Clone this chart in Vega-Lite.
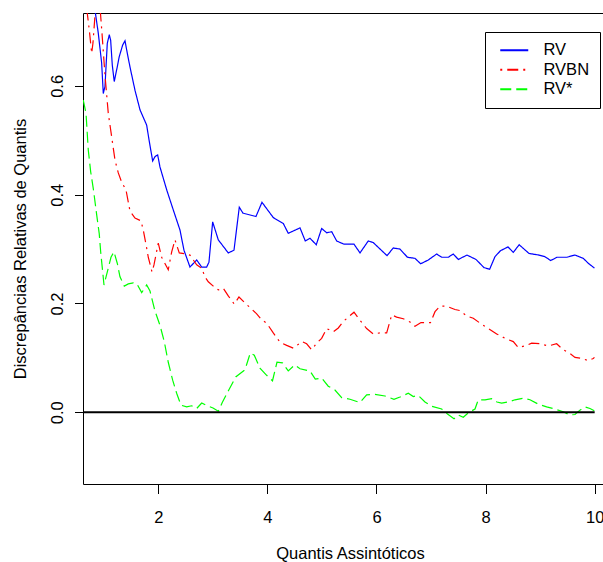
{
  "$schema": "https://vega.github.io/schema/vega-lite/v6.json",
  "width": 521,
  "height": 471,
  "autosize": {"type": "none"},
  "padding": {"left": 83, "top": 13, "right": -1, "bottom": 78},
  "background": "white",
  "config": {
    "font": "Liberation Sans",
    "view": {"stroke": "black", "strokeWidth": 1},
    "axis": {"grid": false, "domain": false, "tickColor": "black", "labelColor": "black", "titleColor": "black", "labelFontSize": 16.5, "titleFontSize": 16.5, "titleFontWeight": "normal", "labelFlush": false, "labelOverlap": false}
  },
  "encoding": {
    "x": {"field": "x", "type": "quantitative", "scale": {"domain": [0.62, 10.171], "nice": false, "zero": false},
      "axis": {"values": [2, 4, 6, 8, 10], "format": "d", "tickSize": 9.5, "labelPadding": 29, "labelBaseline": "alphabetic", "title": "Quantis Assintóticos", "titleX": 267, "titleY": 74, "titleBaseline": "alphabetic", "titleAlign": "center"}},
    "y": {"field": "y", "type": "quantitative", "scale": {"domain": [-0.1318, 0.734], "nice": false, "zero": false},
      "axis": {"values": [0, 0.2, 0.4, 0.6], "format": ".1f", "tickSize": 8.5, "labelAngle": -90, "labelAlign": "center", "labelBaseline": "alphabetic", "labelPadding": 12, "title": "Discrepâncias Relativas de Quantis", "titleX": -58, "titleY": 235.5, "titleBaseline": "alphabetic", "titleAlign": "center", "titleAngle": -90}}
  },
  "layer": [
    {
      "data": {"values": [
        {"s":"RV","x":0.803,"y":0.780},{"s":"RV","x":0.840,"y":0.739},{"s":"RV","x":0.900,"y":0.697},{"s":"RV","x":0.962,"y":0.642},{"s":"RV","x":0.992,"y":0.586},{"s":"RV","x":1.023,"y":0.599},{"s":"RV","x":1.065,"y":0.678},{"s":"RV","x":1.102,"y":0.694},{"s":"RV","x":1.127,"y":0.684},{"s":"RV","x":1.157,"y":0.638},{"s":"RV","x":1.193,"y":0.608},{"s":"RV","x":1.248,"y":0.635},{"s":"RV","x":1.285,"y":0.654},{"s":"RV","x":1.347,"y":0.675},{"s":"RV","x":1.390,"y":0.683},{"s":"RV","x":1.432,"y":0.660},{"s":"RV","x":1.481,"y":0.635},{"s":"RV","x":1.573,"y":0.592},{"s":"RV","x":1.665,"y":0.556},{"s":"RV","x":1.787,"y":0.528},{"s":"RV","x":1.830,"y":0.501},{"s":"RV","x":1.897,"y":0.462},{"s":"RV","x":1.940,"y":0.470},{"s":"RV","x":1.989,"y":0.473},{"s":"RV","x":2.031,"y":0.451},{"s":"RV","x":2.154,"y":0.409},{"s":"RV","x":2.275,"y":0.372},{"s":"RV","x":2.398,"y":0.335},{"s":"RV","x":2.471,"y":0.298},{"s":"RV","x":2.581,"y":0.267},{"s":"RV","x":2.704,"y":0.280},{"s":"RV","x":2.796,"y":0.267},{"s":"RV","x":2.887,"y":0.267},{"s":"RV","x":2.929,"y":0.276},{"s":"RV","x":2.997,"y":0.350},{"s":"RV","x":3.100,"y":0.317},{"s":"RV","x":3.283,"y":0.293},{"s":"RV","x":3.388,"y":0.298},{"s":"RV","x":3.485,"y":0.377},{"s":"RV","x":3.553,"y":0.366},{"s":"RV","x":3.791,"y":0.360},{"s":"RV","x":3.901,"y":0.386},{"s":"RV","x":4.108,"y":0.358},{"s":"RV","x":4.292,"y":0.347},{"s":"RV","x":4.383,"y":0.329},{"s":"RV","x":4.598,"y":0.339},{"s":"RV","x":4.695,"y":0.315},{"s":"RV","x":4.781,"y":0.320},{"s":"RV","x":4.896,"y":0.308},{"s":"RV","x":4.995,"y":0.338},{"s":"RV","x":5.087,"y":0.330},{"s":"RV","x":5.179,"y":0.332},{"s":"RV","x":5.270,"y":0.315},{"s":"RV","x":5.404,"y":0.309},{"s":"RV","x":5.588,"y":0.309},{"s":"RV","x":5.698,"y":0.293},{"s":"RV","x":5.850,"y":0.315},{"s":"RV","x":5.941,"y":0.312},{"s":"RV","x":6.193,"y":0.288},{"s":"RV","x":6.308,"y":0.302},{"s":"RV","x":6.431,"y":0.300},{"s":"RV","x":6.568,"y":0.285},{"s":"RV","x":6.706,"y":0.283},{"s":"RV","x":6.810,"y":0.273},{"s":"RV","x":6.950,"y":0.280},{"s":"RV","x":7.104,"y":0.291},{"s":"RV","x":7.195,"y":0.285},{"s":"RV","x":7.316,"y":0.285},{"s":"RV","x":7.408,"y":0.291},{"s":"RV","x":7.500,"y":0.281},{"s":"RV","x":7.659,"y":0.289},{"s":"RV","x":7.824,"y":0.281},{"s":"RV","x":7.971,"y":0.266},{"s":"RV","x":8.075,"y":0.263},{"s":"RV","x":8.172,"y":0.286},{"s":"RV","x":8.273,"y":0.297},{"s":"RV","x":8.411,"y":0.304},{"s":"RV","x":8.508,"y":0.294},{"s":"RV","x":8.616,"y":0.308},{"s":"RV","x":8.796,"y":0.292},{"s":"RV","x":8.979,"y":0.289},{"s":"RV","x":9.089,"y":0.286},{"s":"RV","x":9.194,"y":0.279},{"s":"RV","x":9.309,"y":0.285},{"s":"RV","x":9.487,"y":0.285},{"s":"RV","x":9.639,"y":0.289},{"s":"RV","x":9.791,"y":0.283},{"s":"RV","x":9.883,"y":0.274},{"s":"RV","x":9.996,"y":0.265},
        {"s":"RVBN","x":0.620,"y":0.795},{"s":"RVBN","x":0.687,"y":0.743},{"s":"RVBN","x":0.735,"y":0.703},{"s":"RVBN","x":0.779,"y":0.660},{"s":"RVBN","x":0.803,"y":0.679},{"s":"RVBN","x":0.840,"y":0.730},{"s":"RVBN","x":0.876,"y":0.785},{"s":"RVBN","x":0.922,"y":0.776},{"s":"RVBN","x":0.940,"y":0.734},{"s":"RVBN","x":0.968,"y":0.697},{"s":"RVBN","x":1.023,"y":0.620},{"s":"RVBN","x":1.083,"y":0.550},{"s":"RVBN","x":1.146,"y":0.506},{"s":"RVBN","x":1.206,"y":0.464},{"s":"RVBN","x":1.267,"y":0.440},{"s":"RVBN","x":1.329,"y":0.423},{"s":"RVBN","x":1.408,"y":0.409},{"s":"RVBN","x":1.481,"y":0.370},{"s":"RVBN","x":1.573,"y":0.357},{"s":"RVBN","x":1.683,"y":0.352},{"s":"RVBN","x":1.725,"y":0.335},{"s":"RVBN","x":1.787,"y":0.302},{"s":"RVBN","x":1.817,"y":0.285},{"s":"RVBN","x":1.885,"y":0.258},{"s":"RVBN","x":1.921,"y":0.271},{"s":"RVBN","x":2.000,"y":0.311},{"s":"RVBN","x":2.062,"y":0.285},{"s":"RVBN","x":2.183,"y":0.262},{"s":"RVBN","x":2.246,"y":0.295},{"s":"RVBN","x":2.306,"y":0.317},{"s":"RVBN","x":2.385,"y":0.293},{"s":"RVBN","x":2.508,"y":0.291},{"s":"RVBN","x":2.581,"y":0.289},{"s":"RVBN","x":2.704,"y":0.271},{"s":"RVBN","x":2.796,"y":0.265},{"s":"RVBN","x":2.856,"y":0.249},{"s":"RVBN","x":2.917,"y":0.240},{"s":"RVBN","x":3.008,"y":0.232},{"s":"RVBN","x":3.100,"y":0.225},{"s":"RVBN","x":3.192,"y":0.228},{"s":"RVBN","x":3.283,"y":0.214},{"s":"RVBN","x":3.393,"y":0.199},{"s":"RVBN","x":3.479,"y":0.212},{"s":"RVBN","x":3.589,"y":0.201},{"s":"RVBN","x":3.699,"y":0.191},{"s":"RVBN","x":3.804,"y":0.181},{"s":"RVBN","x":3.896,"y":0.170},{"s":"RVBN","x":3.987,"y":0.164},{"s":"RVBN","x":4.108,"y":0.146},{"s":"RVBN","x":4.231,"y":0.129},{"s":"RVBN","x":4.354,"y":0.123},{"s":"RVBN","x":4.475,"y":0.118},{"s":"RVBN","x":4.634,"y":0.130},{"s":"RVBN","x":4.720,"y":0.126},{"s":"RVBN","x":4.812,"y":0.115},{"s":"RVBN","x":4.904,"y":0.127},{"s":"RVBN","x":4.995,"y":0.136},{"s":"RVBN","x":5.087,"y":0.154},{"s":"RVBN","x":5.208,"y":0.148},{"s":"RVBN","x":5.300,"y":0.155},{"s":"RVBN","x":5.391,"y":0.167},{"s":"RVBN","x":5.496,"y":0.176},{"s":"RVBN","x":5.588,"y":0.184},{"s":"RVBN","x":5.698,"y":0.169},{"s":"RVBN","x":5.820,"y":0.154},{"s":"RVBN","x":5.941,"y":0.144},{"s":"RVBN","x":6.064,"y":0.146},{"s":"RVBN","x":6.187,"y":0.146},{"s":"RVBN","x":6.279,"y":0.179},{"s":"RVBN","x":6.370,"y":0.175},{"s":"RVBN","x":6.491,"y":0.172},{"s":"RVBN","x":6.614,"y":0.166},{"s":"RVBN","x":6.706,"y":0.158},{"s":"RVBN","x":6.816,"y":0.165},{"s":"RVBN","x":6.990,"y":0.165},{"s":"RVBN","x":7.073,"y":0.185},{"s":"RVBN","x":7.164,"y":0.195},{"s":"RVBN","x":7.287,"y":0.195},{"s":"RVBN","x":7.439,"y":0.189},{"s":"RVBN","x":7.531,"y":0.187},{"s":"RVBN","x":7.654,"y":0.177},{"s":"RVBN","x":7.775,"y":0.173},{"s":"RVBN","x":7.897,"y":0.164},{"s":"RVBN","x":8.050,"y":0.154},{"s":"RVBN","x":8.204,"y":0.144},{"s":"RVBN","x":8.356,"y":0.136},{"s":"RVBN","x":8.508,"y":0.130},{"s":"RVBN","x":8.600,"y":0.119},{"s":"RVBN","x":8.722,"y":0.122},{"s":"RVBN","x":8.845,"y":0.127},{"s":"RVBN","x":8.997,"y":0.126},{"s":"RVBN","x":9.149,"y":0.122},{"s":"RVBN","x":9.303,"y":0.126},{"s":"RVBN","x":9.424,"y":0.115},{"s":"RVBN","x":9.547,"y":0.108},{"s":"RVBN","x":9.639,"y":0.101},{"s":"RVBN","x":9.762,"y":0.099},{"s":"RVBN","x":9.883,"y":0.095},{"s":"RVBN","x":9.974,"y":0.099},{"s":"RVBN","x":9.996,"y":0.101},
        {"s":"RV*","x":0.625,"y":0.574},{"s":"RV*","x":0.675,"y":0.550},{"s":"RV*","x":0.717,"y":0.482},{"s":"RV*","x":0.761,"y":0.442},{"s":"RV*","x":0.812,"y":0.409},{"s":"RV*","x":0.871,"y":0.363},{"s":"RV*","x":0.918,"y":0.328},{"s":"RV*","x":0.944,"y":0.295},{"s":"RV*","x":0.977,"y":0.262},{"s":"RV*","x":1.005,"y":0.234},{"s":"RV*","x":1.083,"y":0.265},{"s":"RV*","x":1.133,"y":0.285},{"s":"RV*","x":1.188,"y":0.295},{"s":"RV*","x":1.248,"y":0.274},{"s":"RV*","x":1.298,"y":0.249},{"s":"RV*","x":1.377,"y":0.232},{"s":"RV*","x":1.450,"y":0.236},{"s":"RV*","x":1.542,"y":0.238},{"s":"RV*","x":1.610,"y":0.236},{"s":"RV*","x":1.696,"y":0.220},{"s":"RV*","x":1.787,"y":0.234},{"s":"RV*","x":1.848,"y":0.223},{"s":"RV*","x":1.940,"y":0.186},{"s":"RV*","x":2.031,"y":0.160},{"s":"RV*","x":2.110,"y":0.130},{"s":"RV*","x":2.183,"y":0.092},{"s":"RV*","x":2.264,"y":0.059},{"s":"RV*","x":2.337,"y":0.035},{"s":"RV*","x":2.416,"y":0.013},{"s":"RV*","x":2.521,"y":0.010},{"s":"RV*","x":2.612,"y":0.012},{"s":"RV*","x":2.704,"y":0.007},{"s":"RV*","x":2.796,"y":0.017},{"s":"RV*","x":2.902,"y":0.012},{"s":"RV*","x":3.003,"y":0.008},{"s":"RV*","x":3.100,"y":0.002},{"s":"RV*","x":3.173,"y":0.018},{"s":"RV*","x":3.283,"y":0.039},{"s":"RV*","x":3.419,"y":0.065},{"s":"RV*","x":3.589,"y":0.078},{"s":"RV*","x":3.687,"y":0.109},{"s":"RV*","x":3.760,"y":0.105},{"s":"RV*","x":3.864,"y":0.081},{"s":"RV*","x":3.987,"y":0.068},{"s":"RV*","x":4.094,"y":0.058},{"s":"RV*","x":4.176,"y":0.092},{"s":"RV*","x":4.277,"y":0.091},{"s":"RV*","x":4.383,"y":0.076},{"s":"RV*","x":4.500,"y":0.087},{"s":"RV*","x":4.598,"y":0.080},{"s":"RV*","x":4.781,"y":0.076},{"s":"RV*","x":4.878,"y":0.061},{"s":"RV*","x":4.995,"y":0.063},{"s":"RV*","x":5.116,"y":0.048},{"s":"RV*","x":5.239,"y":0.041},{"s":"RV*","x":5.362,"y":0.027},{"s":"RV*","x":5.514,"y":0.024},{"s":"RV*","x":5.698,"y":0.018},{"s":"RV*","x":5.820,"y":0.032},{"s":"RV*","x":5.973,"y":0.033},{"s":"RV*","x":6.156,"y":0.030},{"s":"RV*","x":6.321,"y":0.024},{"s":"RV*","x":6.431,"y":0.028},{"s":"RV*","x":6.583,"y":0.035},{"s":"RV*","x":6.675,"y":0.029},{"s":"RV*","x":6.766,"y":0.031},{"s":"RV*","x":6.889,"y":0.019},{"s":"RV*","x":7.017,"y":0.011},{"s":"RV*","x":7.195,"y":0.006},{"s":"RV*","x":7.302,"y":-0.003},{"s":"RV*","x":7.421,"y":-0.012},{"s":"RV*","x":7.500,"y":-0.005},{"s":"RV*","x":7.591,"y":-0.009},{"s":"RV*","x":7.683,"y":-0.001},{"s":"RV*","x":7.806,"y":0.006},{"s":"RV*","x":7.866,"y":0.023},{"s":"RV*","x":7.989,"y":0.023},{"s":"RV*","x":8.112,"y":0.025},{"s":"RV*","x":8.209,"y":0.019},{"s":"RV*","x":8.295,"y":0.017},{"s":"RV*","x":8.416,"y":0.019},{"s":"RV*","x":8.539,"y":0.023},{"s":"RV*","x":8.691,"y":0.026},{"s":"RV*","x":8.814,"y":0.023},{"s":"RV*","x":8.966,"y":0.015},{"s":"RV*","x":9.120,"y":0.010},{"s":"RV*","x":9.272,"y":0.006},{"s":"RV*","x":9.424,"y":0.001},{"s":"RV*","x":9.547,"y":-0.005},{"s":"RV*","x":9.639,"y":-0.004},{"s":"RV*","x":9.730,"y":0.004},{"s":"RV*","x":9.822,"y":0.010},{"s":"RV*","x":9.914,"y":0.007},{"s":"RV*","x":9.993,"y":0.003}
      ]},
      "mark": {"type": "line", "clip": true, "strokeWidth": 1.2},
      "encoding": {
        "color": {"field": "s", "type": "nominal", "scale": {"domain": ["RV", "RVBN", "RV*"], "range": ["#0000FF", "#FF0000", "#00FF00"]},
          "legend": {"title": null, "orient": "none", "legendX": 402, "legendY": 19, "strokeColor": "black", "fillColor": "white", "padding": 10, "symbolType": "M-2,0H2", "symbolSize": 196, "symbolStrokeWidth": 2, "symbolOffset": 11, "labelFontSize": 16.5, "labelColor": "black", "labelOffset": 21, "rowPadding": 2.5, "cornerRadius": 0}},
        "strokeDash": {"field": "s", "type": "nominal", "scale": {"domain": ["RV", "RVBN", "RV*"], "range": [[1, 0], [2, 5, 11, 5], [11, 5]]}, "legend": null}
      }
    },
    {
      "data": {"values": [{"x": 0.62, "xe": 10, "y": 0}]},
      "mark": {"type": "rule", "color": "black", "strokeWidth": 2},
      "encoding": {"x2": {"field": "xe"}}
    }
  ]
}
